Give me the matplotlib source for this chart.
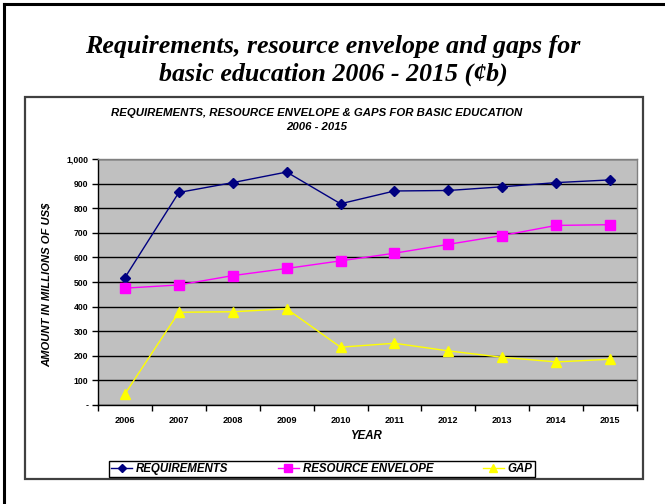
import matplotlib
matplotlib.use("Agg")
import matplotlib.pyplot as plt
from matplotlib.patches import Rectangle
from matplotlib.lines import Line2D

years = ["2006", "2007", "2008", "2009", "2010", "2011", "2012", "2013", "2014", "2015"]
requirements = [518, 864, 904, 947, 818, 870, 872, 887, 904, 915]
resource_envelope = [475, 488, 526, 555, 586, 617, 653, 689, 730, 733]
gap = [45, 377, 379, 391, 235, 251, 220, 194, 175, 186]
yticks = [0, 100, 200, 300, 400, 500, 600, 700, 800, 900, 1000]
ytick_labels = ["-", "100", "200", "300", "400", "500", "600", "700", "800", "900", "1,000"]

W, H = 665, 504
fig = plt.figure(figsize=(W / 100, H / 100), dpi=100)
fig.patch.set_facecolor("white")

def fx(px):
    return px / W

def fy(py):
    return 1 - py / H

# outer border (top and left visible)
fig.add_artist(Line2D([fx(4), fx(W + 5)], [fy(4), fy(4)], color="black", lw=2.2, transform=fig.transFigure))
fig.add_artist(Line2D([fx(4), fx(4)], [fy(4), fy(H + 5)], color="black", lw=2.2, transform=fig.transFigure))

# inner chart frame
fig.add_artist(Rectangle((fx(25), fy(479)), fx(643) - fx(25), fy(97) - fy(479),
                         transform=fig.transFigure, fill=False, edgecolor="#404040", lw=1.6))

# main title
fig.text(fx(333), fy(46), "Requirements, resource envelope and gaps for",
         ha="center", va="center", family="Liberation Serif", style="italic",
         weight="bold", fontsize=18.7)
fig.text(fx(333), fy(74), "basic education 2006 - 2015 (¢b)",
         ha="center", va="center", family="Liberation Serif", style="italic",
         weight="bold", fontsize=18.7)

# chart title
fig.text(fx(317), fy(113), "REQUIREMENTS, RESOURCE ENVELOPE & GAPS FOR BASIC EDUCATION",
         ha="center", va="center", family="Liberation Sans", style="italic",
         weight="bold", fontsize=8.2)
fig.text(fx(317), fy(127), "2006 - 2015",
         ha="center", va="center", family="Liberation Sans", style="italic",
         weight="bold", fontsize=8.2)

left, right, top, bottom = 98, 637, 159, 405
ax = fig.add_axes([fx(left), fy(bottom), fx(right) - fx(left), fy(top) - fy(bottom)])
ax.set_facecolor("#C0C0C0")

x = list(range(len(years)))
l1, = ax.plot(x, requirements, color="#000080", lw=1.0, marker="D", markersize=5.5,
              markerfacecolor="#000080", markeredgecolor="#000080", label="REQUIREMENTS", zorder=4)
l2, = ax.plot(x, resource_envelope, color="#FF00FF", lw=1.0, marker="s", markersize=6.5,
              markerfacecolor="#FF00FF", markeredgecolor="#FF00FF", label="RESOURCE ENVELOPE", zorder=4)
l3, = ax.plot(x, gap, color="#FFFF00", lw=1.0, marker="^", markersize=7.5,
              markerfacecolor="#FFFF00", markeredgecolor="#FFFF00", label="GAP", zorder=4)

ax.set_xlim(-0.5, len(years) - 0.5)
ax.set_ylim(0, 1000)
ax.set_yticks(yticks)
ax.set_yticklabels(ytick_labels, family="Liberation Sans", weight="bold", fontsize=6.2)
ax.yaxis.grid(True, color="black", lw=1.0)
ax.set_axisbelow(True)

ax.set_xticks(x)
ax.set_xticklabels(years, family="Liberation Sans", weight="bold", fontsize=6.6)
ax.tick_params(axis="x", which="major", length=0, pad=8)
ax.set_xticks([i - 0.5 for i in range(len(years) + 1)], minor=True)
ax.tick_params(axis="x", which="minor", length=4, width=1, direction="out", color="black")
ax.tick_params(axis="y", length=4, width=1, direction="out", color="black", pad=3)

for s in ["left", "bottom"]:
    ax.spines[s].set_color("black")
    ax.spines[s].set_linewidth(1.0)
for s in ["top", "right"]:
    ax.spines[s].set_color("#808080")
    ax.spines[s].set_linewidth(1.0)

fig.text(fx(46), fy(285), "AMOUNT IN MILLIONS OF US$", rotation=90,
         ha="center", va="center", family="Liberation Sans", style="italic",
         weight="bold", fontsize=8.1)
fig.text(fx(366), fy(436), "YEAR", ha="center", va="center", family="Liberation Sans",
         style="italic", weight="bold", fontsize=8.3)

leg = fig.legend(handles=[l1, l2, l3], loc="center", ncol=3,
                 bbox_to_anchor=(fx(322), fy(469)),
                 prop={"family": "Liberation Sans", "style": "italic", "weight": "bold", "size": 8.3},
                 frameon=True, fancybox=False, edgecolor="black", framealpha=1,
                 handlelength=1.8, handletextpad=0.35, columnspacing=4.3,
                 borderpad=0.2, borderaxespad=0, markerscale=0.8)
leg.get_frame().set_linewidth(1.0)

fig.savefig("out.png", dpi=100, facecolor="white")
